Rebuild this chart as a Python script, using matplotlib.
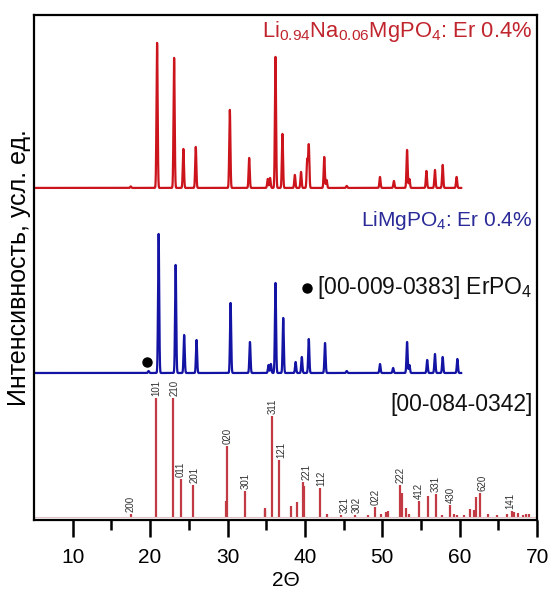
import matplotlib

matplotlib.use("Agg")

import matplotlib.pyplot as plt
import numpy as np


# Li0.94Na0.06MgPO4: Er 0.4% pattern (peak 2theta, peak height)
NA_PEAK_POSITIONS = [17.5, 20.9, 23.1, 24.3, 25.9, 30.3, 32.8, 35.2, 35.5, 36.2,
                     37.1, 38.7, 39.5, 40.3, 40.5, 42.5, 42.8, 45.4, 49.7, 51.5,
                     53.2, 53.5, 55.7, 56.8, 57.8, 59.6]
NA_PEAK_HEIGHTS = [1.5, 145, 130, 39, 41, 78, 30, 9, 10, 131,
                   54, 13, 16, 28, 43, 31, 8, 2, 11, 7,
                   38, 9, 17, 18, 23, 11]

# LiMgPO4: Er 0.4% pattern
LI_PEAK_POSITIONS = [19.8, 21.1, 23.3, 24.4, 26.0, 30.4, 32.9, 35.3, 35.6, 36.2,
                     37.2, 38.8, 39.6, 40.5, 42.6, 45.4, 49.7, 51.4, 53.2, 53.5,
                     55.8, 56.8, 57.8, 59.7]
LI_PEAK_HEIGHTS = [2, 139, 108, 38, 33, 70, 31, 8, 9, 90,
                   55, 11, 16, 34, 30, 2, 9, 5, 31, 8,
                   13, 19, 16, 14]

ERPO4_POSITION = 19.6
ERPO4_HEIGHT = 11

# reference card [00-084-0342]
CARD_POSITIONS = [17.5, 20.7, 22.9, 24.0, 25.6, 29.8, 29.9, 32.3, 34.8, 34.9,
                  35.7, 36.6, 38.2, 39.0, 39.8, 39.9, 41.9, 42.8, 44.6, 46.5,
                  48.2, 49.0, 49.8, 50.5, 50.8, 52.3, 52.5, 53.0, 53.5, 54.8,
                  55.9, 57.0, 57.7, 58.7, 59.3, 59.6, 60.5, 61.3, 61.8, 62.1,
                  62.6, 63.6, 64.8, 66.1, 66.7, 67.0, 67.5, 68.2, 68.6, 68.9]
CARD_HEIGHTS = [3, 119, 119, 38, 32, 16, 71, 26, 7, 9,
                101, 57, 11, 15, 35, 31, 29, 3, 2, 2,
                2, 10, 3, 5, 6, 32, 24, 9, 3, 16,
                21, 23, 2, 12, 3, 2, 2, 8, 7, 20,
                24, 3, 2, 3, 6, 5, 4, 2, 3, 3]

HKL_LABELS = ["200", "101", "210", "011", "201", "020", "301", "311", "121", "221",
              "112", "321", "302", "022", "222", "412", "331", "430", "620", "141"]
HKL_POSITIONS = [17.5, 20.8, 23.1, 24.0, 25.7, 30.0, 32.4, 35.9, 36.9, 40.2,
                 42.1, 45.1, 46.7, 49.2, 52.3, 54.7, 56.9, 58.8, 62.9, 66.5]
HKL_HEIGHTS = [3, 119, 119, 38, 32, 71, 26, 101, 57, 35,
               29, 2, 2, 10, 32, 16, 23, 12, 24, 6]

X_TICKS = [10, 20, 30, 40, 50, 60, 70]
X_MINOR_TICKS = [15, 25, 35, 45, 55, 65]

NA_OFFSET = 332
LI_OFFSET = 147
CARD_OFFSET = 3


def pattern(grid, positions, heights, width=0.075):
    curve = np.zeros_like(grid)
    for position, height in zip(positions, heights):
        curve += height * np.exp(-0.5 * ((grid - position) / width) ** 2)
    return curve


def main() -> None:
    plt.rcParams["font.family"] = ["Liberation Sans", "DejaVu Sans"]
    plt.rcParams["mathtext.fontset"] = "custom"
    plt.rcParams["mathtext.rm"] = "Liberation Sans"
    plt.rcParams["mathtext.it"] = "Liberation Sans:italic"

    figure = plt.figure(figsize=(5.52, 5.95), dpi=100)
    axis = figure.add_axes([0.0616, 0.126, 0.9114, 0.849])

    grid = np.arange(5.0, 60.2, 0.01)

    axis.plot(
        grid,
        NA_OFFSET + pattern(grid, NA_PEAK_POSITIONS, NA_PEAK_HEIGHTS),
        color="#cc141c",
        linewidth=1.6,
    )

    axis.plot(
        grid,
        LI_OFFSET + pattern(grid, LI_PEAK_POSITIONS, LI_PEAK_HEIGHTS),
        color="#1414a4",
        linewidth=1.6,
    )

    axis.vlines(
        CARD_POSITIONS,
        CARD_OFFSET,
        [CARD_OFFSET + height for height in CARD_HEIGHTS],
        color="#c23a44",
        linewidth=1.6,
    )
    axis.hlines(CARD_OFFSET, 5, 70, color="#e0c4c8", linewidth=0.8)

    for label, position, height in zip(HKL_LABELS, HKL_POSITIONS, HKL_HEIGHTS):
        axis.text(
            position,
            CARD_OFFSET + height + 2,
            label,
            rotation=90,
            ha="center",
            va="bottom",
            fontsize=7,
            color="#333333",
        )

    axis.plot(
        ERPO4_POSITION,
        LI_OFFSET + ERPO4_HEIGHT,
        "o",
        color="black",
        markersize=6.5,
    )
    axis.plot(40.3, 232, "o", color="black", markersize=6.5)

    axis.text(
        69.4,
        488,
        r"Li$_{0.94}$Na$_{0.06}$MgPO$_4$: Er 0.4%",
        ha="right",
        va="center",
        fontsize=15.8,
        color="#c0242c",
    )
    axis.text(
        69.4,
        299,
        r"LiMgPO$_4$: Er 0.4%",
        ha="right",
        va="center",
        fontsize=15,
        color="#2a2a98",
    )
    axis.text(
        41.5,
        232,
        r"[00-009-0383] ErPO$_4$",
        ha="left",
        va="center",
        fontsize=16.5,
        color="#111111",
    )
    axis.text(
        69.4,
        115,
        "[00-084-0342]",
        ha="right",
        va="center",
        fontsize=16.5,
        color="#111111",
    )

    axis.set_xlim(5, 70)
    axis.set_ylim(0, 505)
    axis.set_xticks(X_TICKS)
    axis.set_xticks(X_MINOR_TICKS, minor=True)
    axis.set_yticks([])
    axis.tick_params(
        axis="x",
        which="major",
        direction="out",
        length=12,
        width=1.8,
        labelsize=15,
        pad=8,
    )
    axis.tick_params(
        axis="x",
        which="minor",
        direction="out",
        length=7,
        width=1.8,
    )
    for spine in axis.spines.values():
        spine.set_linewidth(1.6)

    axis.set_xlabel("2Θ", fontsize=15, labelpad=3)
    axis.set_ylabel("Интенсивность, усл. ед.", fontsize=18, labelpad=2)

    figure.savefig("out.png", dpi=100)
    plt.close(figure)


if __name__ == "__main__":
    main()
